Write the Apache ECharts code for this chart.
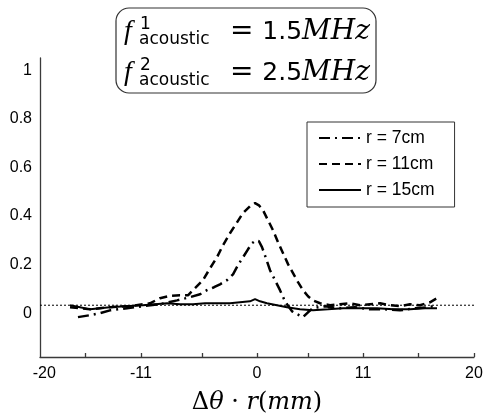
<!DOCTYPE html>
<html>
<head>
<meta charset="utf-8">
<script src="https://cdn.jsdelivr.net/npm/echarts@6/dist/echarts.min.js"></script>
<style>html,body{margin:0;padding:0;background:#fff}#c{width:489px;height:415px}</style>
</head>
<body>
<div id="c"></div>
<script>
// ---- data ----
const seriesNames = ['r = 7cm', 'r = 11cm', 'r = 15cm'];

const x7 = [-16.50,-15.39,-14.47,-13.55,-11.98,-10.51,-8.94,-7.37,-6.18,-5.25,-4.61,-3.96,-3.41,-2.76,-2.21,-1.75,-1.29,-0.83,-0.46,-0.09,0.18,0.46,0.83,1.20,1.66,2.12,2.49,2.76,3.23,3.69,4.24,4.70,5.16,6.27,7.65,9.03,10.41,11.80,13.18,14.56,15.94,16.59];
const y7 = [-0.016,-0.008,0.000,0.012,0.021,0.029,0.037,0.053,0.066,0.078,0.095,0.107,0.119,0.136,0.160,0.198,0.230,0.263,0.288,0.300,0.296,0.272,0.226,0.177,0.136,0.095,0.058,0.037,0.008,-0.004,-0.016,0.004,0.021,0.029,0.021,0.025,0.016,0.016,0.012,0.021,0.025,0.037];

const x11 = [-17.23,-15.39,-13.55,-11.71,-9.86,-8.94,-8.02,-7.10,-6.36,-5.90,-4.98,-4.33,-3.69,-3.13,-2.49,-1.84,-1.29,-0.65,-0.18,0.18,0.55,1.01,1.47,1.94,2.40,2.86,3.32,3.78,4.24,4.70,5.16,5.81,6.73,7.65,8.57,9.49,10.41,11.34,12.26,13.18,14.10,15.02,15.94,16.59];
const y11 = [0.025,0.016,0.025,0.029,0.041,0.062,0.072,0.074,0.074,0.095,0.136,0.185,0.230,0.280,0.329,0.374,0.412,0.440,0.453,0.444,0.424,0.383,0.342,0.292,0.247,0.202,0.165,0.128,0.095,0.070,0.053,0.041,0.033,0.037,0.041,0.033,0.037,0.041,0.033,0.029,0.037,0.033,0.045,0.062];

const x15 = [-17.23,-16.31,-15.39,-14.47,-13.55,-12.17,-10.51,-9.40,-8.29,-7.10,-5.90,-4.79,-3.69,-2.49,-1.57,-0.65,-0.18,0.28,0.92,1.84,2.76,3.96,5.16,6.54,7.93,9.49,11.06,12.53,14.10,15.48,16.59];
const y15 = [0.033,0.025,0.016,0.021,0.025,0.029,0.033,0.037,0.041,0.037,0.037,0.041,0.041,0.041,0.045,0.049,0.058,0.049,0.041,0.033,0.025,0.016,0.012,0.016,0.021,0.021,0.021,0.016,0.016,0.021,0.021];

const baselineX = [-20, 20];
const baselineY = [0.033, 0.033];

const xTickValues = [-15.85, -10.69, -5.07, 0, 4.70, 9.77, 14.84, 20];
const xLabelValues = [-19.6, -10.69, 0, 9.77, 20];
const xLabelTexts = ['-20', '-11', '0', '11', '20'];
const yLabelValues = [0, 0.2, 0.4, 0.6, 0.8, 1];
const yLabelTexts = ['0', '0.2', '0.4', '0.6', '0.8', '1'];

// ---- chart ----
const zip = (xs, ys) => xs.map((v, i) => [v, ys[i]]);
const chart = echarts.init(document.getElementById('c'), null, {renderer: 'canvas'});
const axisColor = '#3a3a3a';
const sans = 'Liberation Sans, Arial, Helvetica, sans-serif';

chart.setOption({
  animation: false,
  backgroundColor: '#fff',
  grid: {left: 40, right: 15, top: 58, bottom: 58, containLabel: false, outerBoundsMode: 'none'},
  xAxis: {
    type: 'value', min: -20, max: 20,
    splitLine: {show: false},
    axisLine: {show: true, onZero: false, lineStyle: {color: axisColor, width: 1.3}},
    axisTick: {show: true, inside: true, length: 4, customValues: xTickValues, lineStyle: {color: axisColor, width: 1.3}},
    axisLabel: {
      show: true, customValues: xLabelValues, margin: 9, fontSize: 16, color: '#000', fontFamily: sans,
      formatter: v => { const i = xLabelValues.findIndex(t => Math.abs(t - v) < 1e-6); return i >= 0 ? xLabelTexts[i] : ''; }
    },
    name: '{u|Δ}{i|θ}{u| · }{i|r}{u|(}{i|mm}{u|)}',
    nameLocation: 'middle', nameGap: 34,
    nameTextStyle: {
      rich: {
        u: {fontFamily: 'DejaVu Serif, serif', fontSize: 24, color: '#000'},
        i: {fontFamily: 'DejaVu Serif, serif', fontStyle: 'italic', fontSize: 24, color: '#000'}
      }
    }
  },
  yAxis: {
    type: 'value', min: -0.18, max: 1.05,
    splitLine: {show: false},
    axisLine: {show: true, onZero: false, lineStyle: {color: axisColor, width: 1.3}},
    axisTick: {show: false},
    axisLabel: {
      show: true, customValues: yLabelValues, margin: 8, fontSize: 16, color: '#000', fontFamily: sans,
      formatter: v => { const i = yLabelValues.findIndex(t => Math.abs(t - v) < 1e-6); return i >= 0 ? yLabelTexts[i] : ''; }
    }
  },
  legend: {
    data: seriesNames,
    orient: 'vertical', left: 307, top: 122,
    padding: [7, 20, 8, 11], itemGap: 8, itemWidth: 42, itemHeight: 14,
    borderColor: '#333', borderWidth: 1, backgroundColor: '#fff',
    itemStyle: {opacity: 0, borderWidth: 0},
    textStyle: {fontSize: 17.5, fontFamily: sans, color: '#000', lineHeight: 18}
  },
  series: [
    {name: 'baseline', type: 'line', data: zip(baselineX, baselineY), symbol: 'none', silent: true,
     lineStyle: {color: '#000', width: 1, type: [2, 2]}, z: 1},
    {name: seriesNames[0], type: 'line', data: zip(x7, y7), symbol: 'none', color: '#000',
     lineStyle: {color: '#000', width: 2.5, type: [11, 5, 2, 5]}, z: 3},
    {name: seriesNames[1], type: 'line', data: zip(x11, y11), symbol: 'none', color: '#000',
     lineStyle: {color: '#000', width: 2.5, type: [8, 5]}, z: 3},
    {name: seriesNames[2], type: 'line', data: zip(x15, y15), symbol: 'none', color: '#000',
     lineStyle: {color: '#000', width: 2, type: 'solid'}, z: 3}
  ],
  graphic: [
    {type: 'rect', shape: {x: 116, y: 8, width: 260, height: 85, r: 13},
     style: {fill: '#fff', stroke: '#333', lineWidth: 1.2}, z: 10},
    // line 1
    {type: 'text', x: 124, y: 32, z: 11, style: {text: 'f', font: 'italic 28px "Liberation Serif"', fill: '#000', verticalAlign: 'middle'}},
    {type: 'text', x: 140, y: 25, z: 11, style: {text: '1', font: '17px "DejaVu Sans"', fill: '#000', verticalAlign: 'middle'}},
    {type: 'text', x: 139, y: 40, z: 11, style: {text: 'acoustic', font: '17px "DejaVu Sans"', fill: '#000', verticalAlign: 'middle'}},
    {type: 'text', x: 230, y: 32, z: 11, style: {text: '{e|= }{n|1.5}{m|MHz}', fill: '#000', verticalAlign: 'middle',
      rich: {e: {font: '28px "DejaVu Sans"'}, n: {font: '25px "DejaVu Sans"'}, m: {font: 'italic 28px "DejaVu Serif"'}}}},
    // line 2
    {type: 'text', x: 124, y: 73, z: 11, style: {text: 'f', font: 'italic 28px "Liberation Serif"', fill: '#000', verticalAlign: 'middle'}},
    {type: 'text', x: 140, y: 66, z: 11, style: {text: '2', font: '17px "DejaVu Sans"', fill: '#000', verticalAlign: 'middle'}},
    {type: 'text', x: 139, y: 81, z: 11, style: {text: 'acoustic', font: '17px "DejaVu Sans"', fill: '#000', verticalAlign: 'middle'}},
    {type: 'text', x: 230, y: 73, z: 11, style: {text: '{e|= }{n|2.5}{m|MHz}', fill: '#000', verticalAlign: 'middle',
      rich: {e: {font: '28px "DejaVu Sans"'}, n: {font: '25px "DejaVu Sans"'}, m: {font: 'italic 28px "DejaVu Serif"'}}}}
  ]
});
</script>
</body>
</html>
